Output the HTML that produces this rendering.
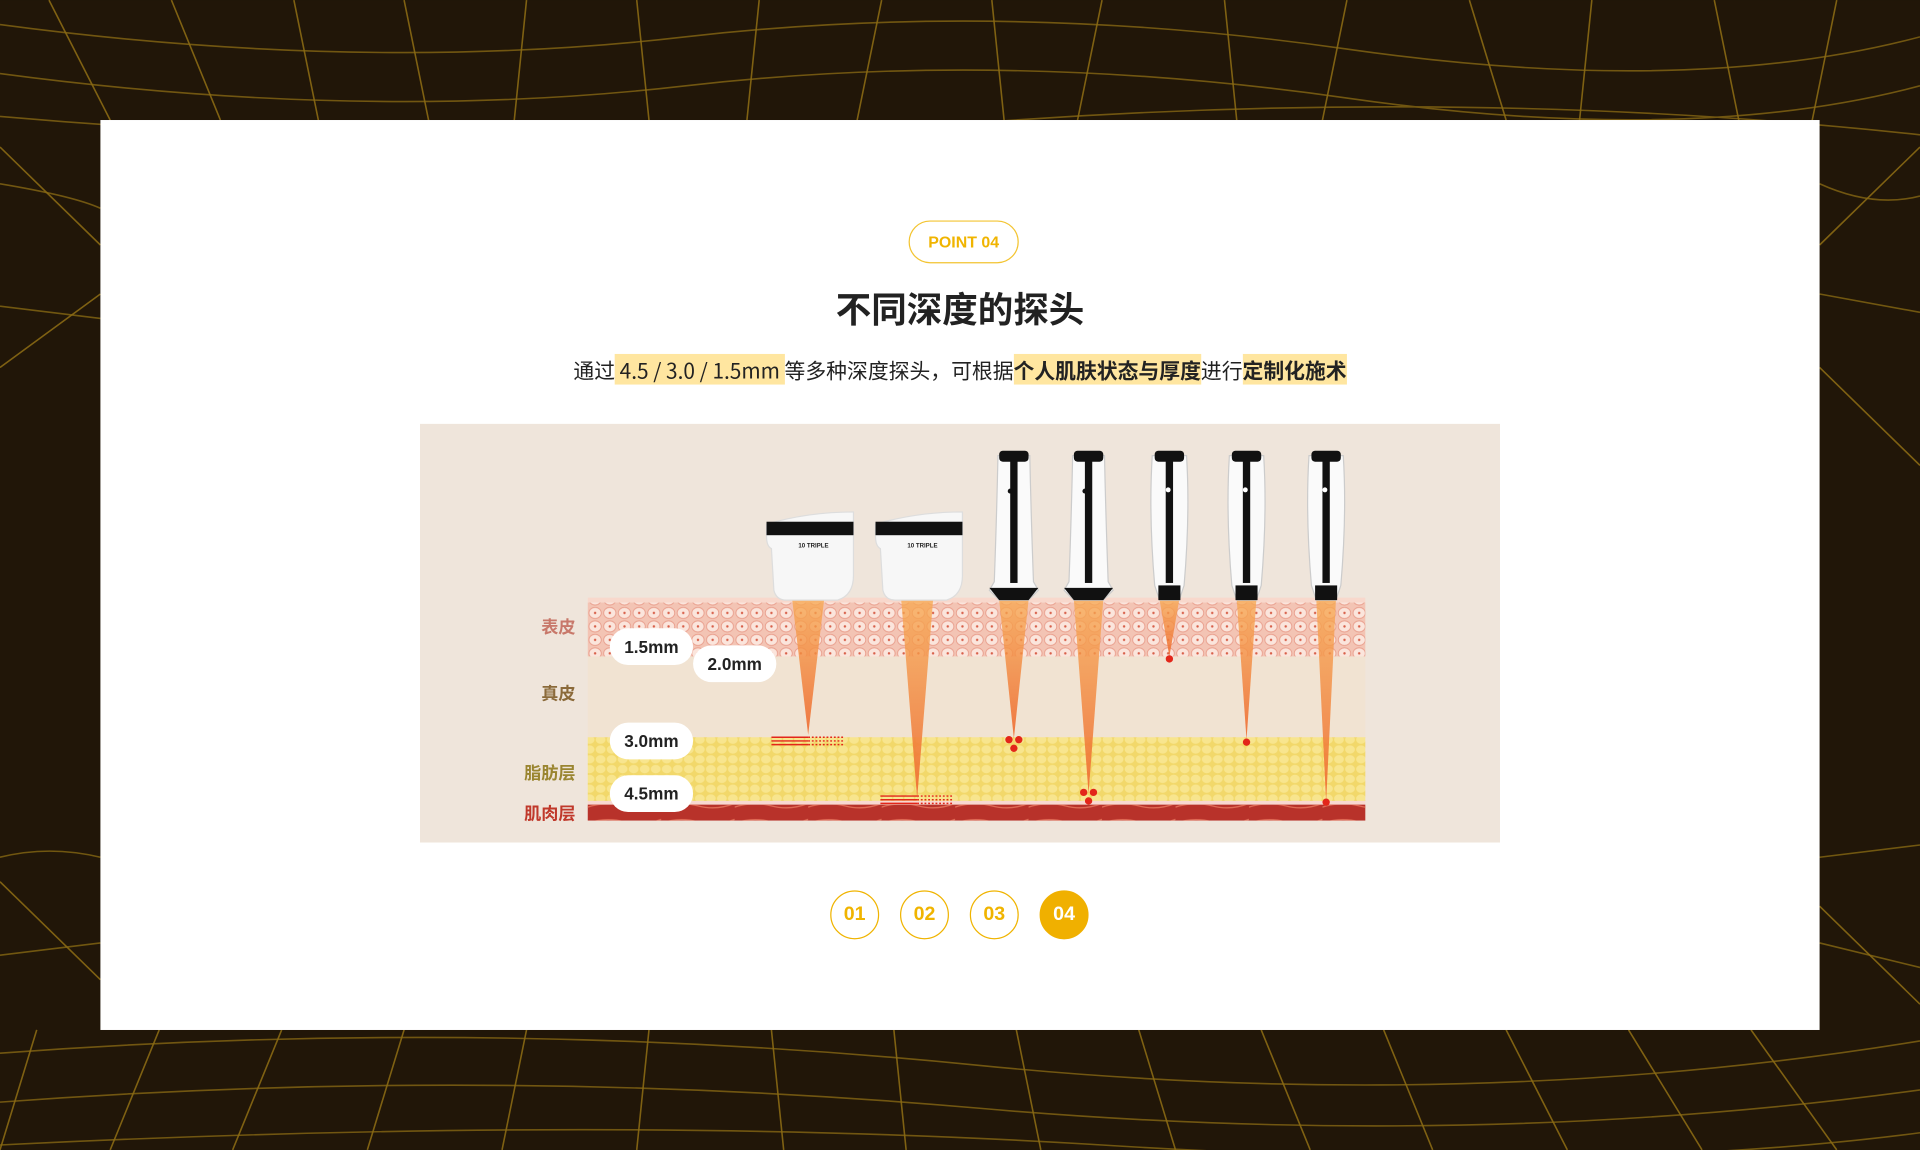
<!DOCTYPE html>
<html><head><meta charset="utf-8"><style>
html,body{margin:0;padding:0;width:1920px;height:1150px;overflow:hidden;background:#201508}
#w{position:absolute;left:0;top:0;width:1568px;height:939px;transform:scale(1.22449,1.22471);transform-origin:0 0;font-family:"Liberation Sans","Noto Sans CJK SC",sans-serif}
.abs{position:absolute}
#panel{left:82px;top:98px;width:1404px;height:743px;background:#fff}
#badge{left:742px;top:180px;width:88px;height:33px;border:1.5px solid #f3c431;border-radius:18px;color:#f0b400;font-weight:bold;font-size:13px;text-align:center;line-height:34px}
#title{left:0;width:1568px;top:230px;text-align:center;font-size:29px;font-weight:bold;color:#222;font-family:"Noto Sans CJK SC",sans-serif}
#sub{left:0;width:1568px;top:289px;text-align:center;font-size:17px;color:#222;font-family:"Noto Sans CJK SC",sans-serif}
#sub b{background:#ffe6a0;font-weight:normal}
#sub b.k{font-weight:bold}
.pill{background:#fff;border-radius:15px;width:68px;height:30px;text-align:center;line-height:30px;font-size:14px;font-weight:bold;color:#222}
.lab{font-size:14px;font-weight:bold;font-family:"Noto Sans CJK SC",sans-serif;text-align:right;width:60px;left:410px}
.pg{width:38px;height:38px;border:1.5px solid #f0b400;border-radius:50%;color:#f0b400;text-align:center;line-height:38px;font-weight:bold;font-size:16px;top:727px}
</style></head><body>
<svg class="abs" style="left:0;top:0" width="1920" height="1150" viewBox="0 0 1568 939">
<rect width="1568" height="939" fill="#211608"/>
<g stroke="#7a5e12" stroke-width="1.3" fill="none" opacity="0.9">
<path d="M0 20 Q300 60 560 30 T1100 40 T1568 30"/>
<path d="M0 60 Q300 100 560 70 T1100 80 T1568 70"/>
<path d="M0 95 Q400 130 800 100 T1568 110"/>
<path d="M0 150 Q60 160 82 170"/><path d="M1486 150 Q1530 170 1568 160"/>
<path d="M0 250 L82 260"/><path d="M1486 240 L1568 255"/>
<path d="M0 700 Q40 690 82 700"/><path d="M1486 700 L1568 690"/>
<path d="M0 780 L82 770"/><path d="M1486 770 L1568 790"/>
<path d="M0 860 Q400 830 800 870 T1568 850"/>
<path d="M0 900 Q400 870 800 905 T1568 890"/>
<path d="M0 935 Q500 910 900 935 T1568 925"/>
</g>
<g stroke="#8a6a14" stroke-width="1.3" opacity="0.9">
<path d="M40 0 L90 98 M140 0 L180 98 M240 0 L260 98 M330 0 L350 98 M430 0 L420 98 M520 0 L530 98 M620 0 L610 98 M720 0 L700 98 M810 0 L820 98 M900 0 L880 98 M1000 0 L1010 98 M1100 0 L1080 98 M1200 0 L1230 98 M1300 0 L1290 98 M1400 0 L1420 98 M1500 0 L1480 98"/>
<path d="M30 841 L0 939 M130 841 L90 939 M230 841 L190 939 M330 841 L300 939 M430 841 L410 939 M530 841 L520 939 M630 841 L640 939 M730 841 L740 939 M830 841 L850 939 M930 841 L960 939 M1030 841 L1070 939 M1130 841 L1170 939 M1230 841 L1280 939 M1330 841 L1390 939 M1430 841 L1500 939"/>
<path d="M0 120 L82 200 M0 300 L82 240 M1486 200 L1568 120 M1486 300 L1568 380 M0 720 L82 800 M1486 740 L1568 820"/>
</g>
</svg>
<div id="w">
<div id="panel" class="abs"></div>
<div id="badge" class="abs">POINT 04</div>
<div id="title" class="abs">不同深度的探头</div>
<div id="sub" class="abs">通过<b> 4.5 / 3.0 / 1.5mm </b> 等多种深度探头，可根据<b class="k">个人肌肤状态与厚度</b>进行<b class="k">定制化施术</b></div>
<svg class="abs" style="left:343px;top:346px" width="882" height="342" viewBox="343 346 882 342">
<defs>
<pattern id="cells" width="12" height="11" patternUnits="userSpaceOnUse"><rect width="12" height="11" fill="#f3c4b4"/><ellipse cx="6" cy="5.5" rx="5" ry="4.5" fill="#fbe5dc" stroke="#e89a88" stroke-width="0.7"/><circle cx="6" cy="5.5" r="1" fill="#d8604a"/></pattern>
<pattern id="fat" width="9" height="8" patternUnits="userSpaceOnUse"><rect width="9" height="8" fill="#f2d86a"/><ellipse cx="4.5" cy="4" rx="4" ry="3.4" fill="#f8e58e"/></pattern>
<pattern id="musc" width="60" height="13" patternUnits="userSpaceOnUse"><path d="M0 9 Q15 4 30 8 Q45 12 60 6" stroke="#e06a55" stroke-width="1.1" fill="none"/></pattern>
<linearGradient id="beam" x1="0" y1="0" x2="0" y2="1"><stop offset="0" stop-color="#f7a850" stop-opacity="0.75"/><stop offset="1" stop-color="#ee6a30" stop-opacity="0.9"/></linearGradient>
</defs>
<rect x="343" y="346" width="882" height="342" fill="#efe5db"/>
<rect x="480" y="488" width="635" height="4" fill="#f8d8cc"/>
<rect x="480" y="492" width="635" height="44" fill="url(#cells)"/>
<rect x="480" y="536" width="635" height="67" fill="#f1e3d2"/>
<rect x="480" y="602" width="635" height="52" fill="url(#fat)"/>
<rect x="480" y="654" width="635" height="3" fill="#f8d8d0"/>
<rect x="480" y="657" width="635" height="13" fill="#b8322a"/>
<rect x="480" y="657" width="635" height="13" fill="url(#musc)"/>
<g fill="url(#beam)">
<polygon points="647,490 673,490 660,600"/>
<polygon points="736,490 762,490 749,652"/>
<polygon points="816,490 840,490 828,603"/>
<polygon points="877,490 901,490 889,648"/>
<polygon points="947,490 963,490 955,536"/>
<polygon points="1010,490 1026,490 1018,604"/>
<polygon points="1075,490 1091,490 1083,655"/>
</g>
<g fill="#e3261a">
<circle cx="955" cy="538" r="3"/><circle cx="1018" cy="606" r="3"/><circle cx="1083" cy="655" r="3"/>
<circle cx="824" cy="604" r="3"/><circle cx="832" cy="604" r="3"/><circle cx="828" cy="611" r="3"/>
<circle cx="885" cy="647" r="3"/><circle cx="893" cy="647" r="3"/><circle cx="889" cy="654" r="3"/>
</g>
<g stroke="#e3261a" stroke-width="1.2">
<path d="M630 602 H660 M630 605 H660 M630 608 H660 M719 650 H749 M719 653 H749 M719 656 H749"/>
<path d="M660 602 H690 M660 605 H690 M660 608 H690 M749 650 H779 M749 653 H779 M749 656 H779" stroke-dasharray="1.5 1.5"/>
</g>
<g>
<path d="M626 428 L626 438 Q626 446 630 448 L632 482 Q634 490 642 490 L684 490 Q697 486 697 470 L697 418 Q660 418 626 428Z" fill="#f7f7f7" stroke="#ddd"/>
<rect x="626" y="426" width="71" height="11" fill="#111"/>
<text x="652" y="447" font-size="5" font-weight="bold" fill="#222">10 TRIPLE</text>
<path d="M715 428 L715 438 Q715 446 719 448 L721 482 Q723 490 731 490 L773 490 Q786 486 786 470 L786 418 Q749 418 715 428Z" fill="#f7f7f7" stroke="#ddd"/>
<rect x="715" y="426" width="71" height="11" fill="#111"/>
<text x="741" y="447" font-size="5" font-weight="bold" fill="#222">10 TRIPLE</text>
</g>
<g>
<g transform="translate(828,0)"><path d="M-13 372 Q-14 420 -16 475 L-20 482 L-12 490 L12 490 L20 482 L16 475 Q14 420 13 372Z" fill="#fafafa" stroke="#ccc"/><rect x="-12" y="368" width="24" height="9" rx="3" fill="#111"/><rect x="-3" y="376" width="6" height="100" fill="#111"/><path d="M-20 480 L20 480 L12 490 L-12 490Z" fill="#111"/><circle cx="-3" cy="401" r="2" fill="#111"/></g>
<g transform="translate(889,0)"><path d="M-13 372 Q-14 420 -16 475 L-20 482 L-12 490 L12 490 L20 482 L16 475 Q14 420 13 372Z" fill="#fafafa" stroke="#ccc"/><rect x="-12" y="368" width="24" height="9" rx="3" fill="#111"/><rect x="-3" y="376" width="6" height="100" fill="#111"/><path d="M-20 480 L20 480 L12 490 L-12 490Z" fill="#111"/><circle cx="-3" cy="401" r="2" fill="#111"/></g>
<g transform="translate(955,0)"><path d="M-14 372 Q-17 420 -12 478 L-8 490 L8 490 L12 478 Q17 420 14 372Z" fill="#fafafa" stroke="#ccc"/><rect x="-12" y="368" width="24" height="9" rx="3" fill="#111"/><rect x="-3" y="376" width="6" height="100" fill="#111"/><rect x="-9" y="478" width="18" height="12" fill="#111"/><circle cx="-1" cy="400" r="2" fill="#fff"/></g>
<g transform="translate(1018,0)"><path d="M-14 372 Q-17 420 -12 478 L-8 490 L8 490 L12 478 Q17 420 14 372Z" fill="#fafafa" stroke="#ccc"/><rect x="-12" y="368" width="24" height="9" rx="3" fill="#111"/><rect x="-3" y="376" width="6" height="100" fill="#111"/><rect x="-9" y="478" width="18" height="12" fill="#111"/><circle cx="-1" cy="400" r="2" fill="#fff"/></g>
<g transform="translate(1083,0)"><path d="M-14 372 Q-17 420 -12 478 L-8 490 L8 490 L12 478 Q17 420 14 372Z" fill="#fafafa" stroke="#ccc"/><rect x="-12" y="368" width="24" height="9" rx="3" fill="#111"/><rect x="-3" y="376" width="6" height="100" fill="#111"/><rect x="-9" y="478" width="18" height="12" fill="#111"/><circle cx="-1" cy="400" r="2" fill="#fff"/></g>
</g>
</svg>
<div class="abs lab" style="top:502px;color:#c8786a">表皮</div>
<div class="abs lab" style="top:556px;color:#8b6a3a">真皮</div>
<div class="abs lab" style="top:621px;color:#9a8530">脂肪层</div>
<div class="abs lab" style="top:654px;color:#c0392b">肌肉层</div>
<div class="abs pill" style="left:498px;top:513px">1.5mm</div>
<div class="abs pill" style="left:566px;top:527px">2.0mm</div>
<div class="abs pill" style="left:498px;top:590px">3.0mm</div>
<div class="abs pill" style="left:498px;top:633px">4.5mm</div>
<div class="abs pg" style="left:678px">01</div>
<div class="abs pg" style="left:735px">02</div>
<div class="abs pg" style="left:792px">03</div>
<div class="abs pg" style="left:849px;background:#f0b000;border-color:#f0b000;color:#fff">04</div>
</div>
</body></html>
